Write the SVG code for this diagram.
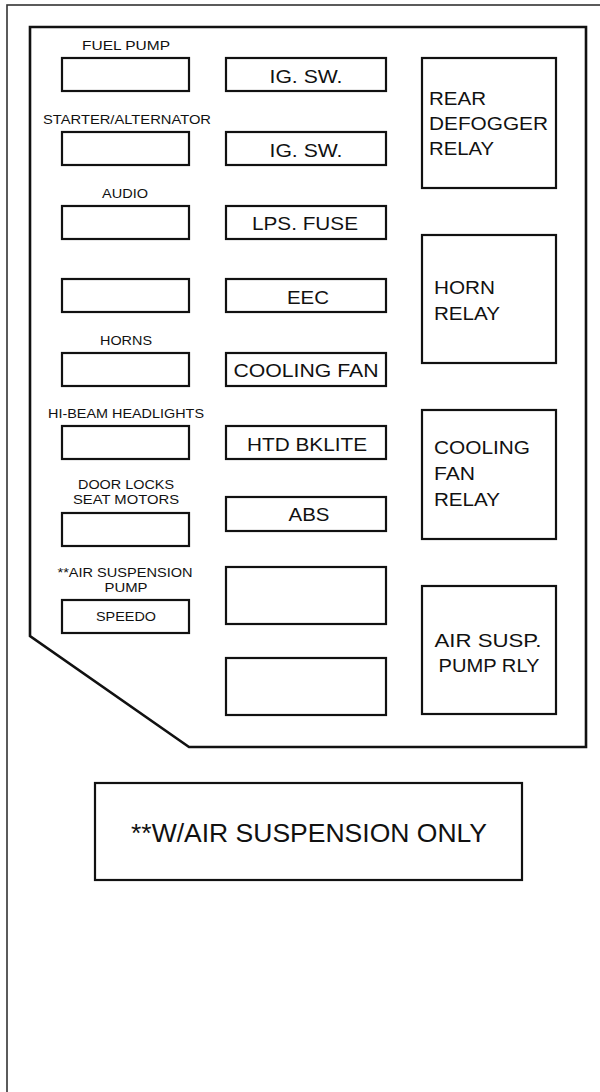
<svg xmlns="http://www.w3.org/2000/svg" width="600" height="1092" viewBox="0 0 600 1092">
<style>
.box{fill:#fff;stroke:#111;stroke-width:2.2}
.panel{fill:#fff;stroke:#111;stroke-width:2.6;stroke-linejoin:miter}
.outer{fill:#fff;stroke:#333;stroke-width:1.6}
.sm{font-family:"Liberation Sans",Arial,sans-serif;font-size:13px;fill:#111;text-anchor:middle}
.big{font-family:"Liberation Sans",Arial,sans-serif;font-size:19px;fill:#111}
.mid{text-anchor:middle}
.note{font-family:"Liberation Sans",Arial,sans-serif;font-size:25px;fill:#111;text-anchor:middle}
</style>
<rect width="600" height="1092" fill="#fff"/>
<rect class="outer" x="7" y="5" width="620" height="1120"/>
<path class="panel" d="M30,27 H586 V747 H189 L30,636 Z"/>

<g id="left-fuses">
<g id="fuel-pump"><text class="sm" x="126" y="50" textLength="88" lengthAdjust="spacingAndGlyphs">FUEL PUMP</text><rect class="box" x="62" y="58" width="127" height="33"/></g>
<g id="starter-alternator"><text class="sm" x="127" y="124" textLength="168" lengthAdjust="spacingAndGlyphs">STARTER/ALTERNATOR</text><rect class="box" x="62" y="132" width="127" height="33"/></g>
<g id="audio"><text class="sm" x="125" y="198" textLength="46" lengthAdjust="spacingAndGlyphs">AUDIO</text><rect class="box" x="62" y="206" width="127" height="33"/></g>
<g id="left-4"><rect class="box" x="62" y="279" width="127" height="33"/></g>
<g id="horns"><text class="sm" x="126" y="345" textLength="52" lengthAdjust="spacingAndGlyphs">HORNS</text><rect class="box" x="62" y="353" width="127" height="33"/></g>
<g id="hi-beam"><text class="sm" x="126" y="418" textLength="156" lengthAdjust="spacingAndGlyphs">HI-BEAM HEADLIGHTS</text><rect class="box" x="62" y="426" width="127" height="33"/></g>
<g id="door-locks"><text class="sm" x="126" y="489" textLength="96" lengthAdjust="spacingAndGlyphs">DOOR LOCKS</text><text class="sm" x="126" y="504" textLength="106" lengthAdjust="spacingAndGlyphs">SEAT MOTORS</text><rect class="box" x="62" y="513" width="127" height="33"/></g>
<g id="speedo"><text class="sm" x="125" y="577" textLength="135" lengthAdjust="spacingAndGlyphs">**AIR SUSPENSION</text><text class="sm" x="126" y="592" textLength="43" lengthAdjust="spacingAndGlyphs">PUMP</text><rect class="box" x="62" y="600" width="127" height="33"/><text class="sm" x="126" y="621" textLength="60" lengthAdjust="spacingAndGlyphs">SPEEDO</text></g>
</g>

<g id="middle-fuses">
<g id="ig-sw-1"><rect class="box" x="226" y="58" width="160" height="33"/><text class="big mid" x="306" y="83" textLength="73" lengthAdjust="spacingAndGlyphs">IG. SW.</text></g>
<g id="ig-sw-2"><rect class="box" x="226" y="132" width="160" height="33"/><text class="big mid" x="306" y="157" textLength="73" lengthAdjust="spacingAndGlyphs">IG. SW.</text></g>
<g id="lps-fuse"><rect class="box" x="226" y="206" width="160" height="33"/><text class="big mid" x="305" y="230" textLength="106" lengthAdjust="spacingAndGlyphs">LPS. FUSE</text></g>
<g id="eec"><rect class="box" x="226" y="279" width="160" height="33"/><text class="big mid" x="308" y="304" textLength="42" lengthAdjust="spacingAndGlyphs">EEC</text></g>
<g id="cooling-fan"><rect class="box" x="226" y="353" width="160" height="33"/><text class="big mid" x="306" y="377" textLength="145" lengthAdjust="spacingAndGlyphs">COOLING FAN</text></g>
<g id="htd-bklite"><rect class="box" x="226" y="426" width="160" height="33"/><text class="big mid" x="307" y="451" textLength="120" lengthAdjust="spacingAndGlyphs">HTD BKLITE</text></g>
<g id="abs"><rect class="box" x="226" y="497" width="160" height="34"/><text class="big mid" x="309" y="521" textLength="41" lengthAdjust="spacingAndGlyphs">ABS</text></g>
<g id="mid-8"><rect class="box" x="226" y="567" width="160" height="57"/></g>
<g id="mid-9"><rect class="box" x="226" y="658" width="160" height="57"/></g>
</g>

<g id="relays">
<g id="rear-defogger-relay"><rect class="box" x="422" y="58" width="134" height="130"/><text class="big" x="429" y="105" textLength="57" lengthAdjust="spacingAndGlyphs">REAR</text><text class="big" x="429" y="130" textLength="119" lengthAdjust="spacingAndGlyphs">DEFOGGER</text><text class="big" x="429" y="155" textLength="65" lengthAdjust="spacingAndGlyphs">RELAY</text></g>
<g id="horn-relay"><rect class="box" x="422" y="235" width="134" height="128"/><text class="big" x="434" y="294" textLength="61" lengthAdjust="spacingAndGlyphs">HORN</text><text class="big" x="434" y="320" textLength="66" lengthAdjust="spacingAndGlyphs">RELAY</text></g>
<g id="cooling-fan-relay"><rect class="box" x="422" y="410" width="134" height="129"/><text class="big" x="434" y="454" textLength="96" lengthAdjust="spacingAndGlyphs">COOLING</text><text class="big" x="434" y="480" textLength="41" lengthAdjust="spacingAndGlyphs">FAN</text><text class="big" x="434" y="506" textLength="66" lengthAdjust="spacingAndGlyphs">RELAY</text></g>
<g id="air-susp-pump-relay"><rect class="box" x="422" y="586" width="134" height="128"/><text class="big mid" x="488" y="647" textLength="107" lengthAdjust="spacingAndGlyphs">AIR SUSP.</text><text class="big mid" x="489" y="672" textLength="101" lengthAdjust="spacingAndGlyphs">PUMP RLY</text></g>
</g>

<g id="note">
<rect class="box" x="95" y="783" width="427" height="97"/>
<text class="note" x="309" y="842" textLength="356" lengthAdjust="spacingAndGlyphs">**W/AIR SUSPENSION ONLY</text>
</g>
<g id="connectors"></g>
</svg>
